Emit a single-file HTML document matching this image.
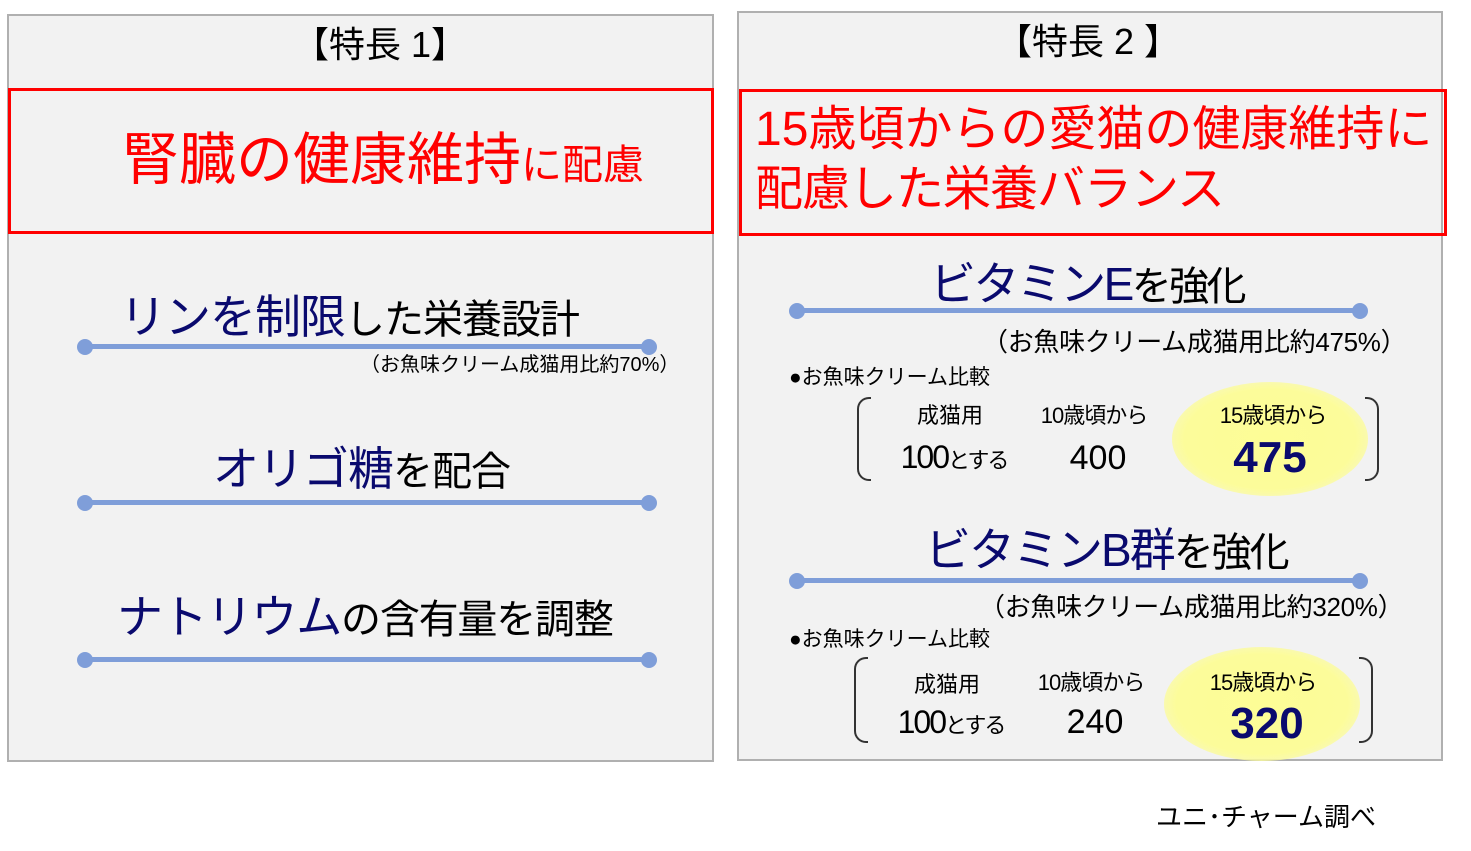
<!DOCTYPE html>
<html><head><meta charset="utf-8"><style>
body{margin:0;width:1471px;height:851px;background:#fff;position:relative;overflow:hidden;font-family:"Liberation Sans","Noto Sans CJK JP",sans-serif}
.a{position:absolute;white-space:nowrap;line-height:1}
.panel{position:absolute;background:#f2f2f2;border:2px solid #b0b0b0;box-sizing:border-box}
.red{position:absolute;border:3px solid #ff0000;box-sizing:border-box}
.ln{position:absolute;height:5px;background:#7f9ed9}
.dot{position:absolute;width:16px;height:16px;border-radius:50%;background:#7f9ed9}
.nv{color:#0a0a6e}
.c{transform:translateX(-50%)}
.br{position:absolute;width:14px;border:2px solid #333;box-sizing:border-box}
.bl{border-right:none;border-radius:12px 0 0 12px}
.brr{border-left:none;border-radius:0 12px 12px 0}
.ell{position:absolute;border-radius:50%;background:radial-gradient(ellipse at center,#fdfd96 0%,#fcfc9a 62%,rgba(252,252,160,0) 100%)}
</style></head><body>
<div class="panel" style="left:7px;top:14px;width:707px;height:748px"></div>
<div class="panel" style="left:737px;top:11px;width:706px;height:750px"></div>

<div class="a c" style="left:380px;top:27px;font-size:36px">【特長 1】</div>
<div class="red" style="left:8px;top:88px;width:706px;height:146px"></div>
<div class="a" style="left:122px;top:132px;color:#ff0000;font-size:57px;letter-spacing:0">腎臓の健康維持<span style="font-size:41px">に配慮</span></div>

<div class="a" style="left:120px;top:294px;font-size:46px;letter-spacing:-1px"><span class="nv">リンを制限</span><span style="font-size:40px">した栄養設計</span></div>
<div class="ln" style="left:85px;top:344px;width:564px"></div>
<div class="dot" style="left:77px;top:339px"></div><div class="dot" style="left:641px;top:339px"></div>
<div class="a" style="left:360px;top:355px;font-size:20px">（お魚味クリーム成猫用比約70%）</div>

<div class="a" style="left:213px;top:446px;font-size:46px;letter-spacing:-1px"><span class="nv">オリゴ糖</span><span style="font-size:40px">を配合</span></div>
<div class="ln" style="left:85px;top:500px;width:564px"></div>
<div class="dot" style="left:77px;top:495px"></div><div class="dot" style="left:641px;top:495px"></div>

<div class="a" style="left:117px;top:594px;font-size:46px;letter-spacing:-1.2px"><span class="nv">ナトリウム</span><span style="font-size:40px">の含有量を調整</span></div>
<div class="ln" style="left:85px;top:657px;width:564px"></div>
<div class="dot" style="left:77px;top:652px"></div><div class="dot" style="left:641px;top:652px"></div>

<div class="a c" style="left:1088px;top:24px;font-size:36px">【特長 2 】</div>
<div class="red" style="left:739px;top:89px;width:708px;height:147px"></div>
<div class="a" style="left:755px;top:106px;color:#ff0000;font-size:48px;letter-spacing:0">15歳頃からの愛猫の健康維持に</div>
<div class="a" style="left:755px;top:166px;color:#ff0000;font-size:48px;letter-spacing:-1px">配慮した栄養バランス</div>

<div class="a" style="left:930px;top:261px;font-size:46px;letter-spacing:-2.6px"><span class="nv">ビタミンE</span><span style="font-size:40px">を強化</span></div>
<div class="ln" style="left:797px;top:308px;width:563px"></div>
<div class="dot" style="left:789px;top:303px"></div><div class="dot" style="left:1352px;top:303px"></div>
<div class="a" style="left:982px;top:329px;font-size:26px;letter-spacing:-0.3px">（お魚味クリーム成猫用比約475%）</div>
<div class="a" style="left:789px;top:367px;font-size:21px">●お魚味クリーム比較</div>
<div class="br bl" style="left:857px;top:397px;height:84px"></div>
<div class="br brr" style="left:1365px;top:397px;height:84px"></div>
<div class="ell" style="left:1172px;top:382px;width:196px;height:114px"></div>
<div class="a c" style="left:950px;top:405px;font-size:22px">成猫用</div>
<div class="a c" style="left:954px;top:441px;font-size:32px;letter-spacing:-2px">100<span style="font-size:22px">とする</span></div>
<div class="a c" style="left:1094px;top:405px;font-size:22px;letter-spacing:-1px">10歳頃から</div>
<div class="a c" style="left:1098px;top:441px;font-size:34px">400</div>
<div class="a c" style="left:1273px;top:405px;font-size:22px;letter-spacing:-1px">15歳頃から</div>
<div class="a c nv" style="left:1270px;top:436px;font-size:44px;font-weight:bold">475</div>

<div class="a" style="left:925px;top:527px;font-size:46px;letter-spacing:-2px"><span class="nv">ビタミンB群</span><span style="font-size:40px">を強化</span></div>
<div class="ln" style="left:797px;top:578px;width:563px"></div>
<div class="dot" style="left:789px;top:573px"></div><div class="dot" style="left:1352px;top:573px"></div>
<div class="a" style="left:979px;top:594px;font-size:26px;letter-spacing:-0.3px">（お魚味クリーム成猫用比約320%）</div>
<div class="a" style="left:789px;top:629px;font-size:21px">●お魚味クリーム比較</div>
<div class="br bl" style="left:854px;top:657px;height:86px"></div>
<div class="br brr" style="left:1359px;top:657px;height:86px"></div>
<div class="ell" style="left:1164px;top:647px;width:196px;height:114px"></div>
<div class="a c" style="left:947px;top:674px;font-size:22px">成猫用</div>
<div class="a c" style="left:951px;top:706px;font-size:32px;letter-spacing:-2px">100<span style="font-size:22px">とする</span></div>
<div class="a c" style="left:1091px;top:672px;font-size:22px;letter-spacing:-1px">10歳頃から</div>
<div class="a c" style="left:1095px;top:705px;font-size:34px">240</div>
<div class="a c" style="left:1263px;top:672px;font-size:22px;letter-spacing:-1px">15歳頃から</div>
<div class="a c nv" style="left:1267px;top:702px;font-size:44px;font-weight:bold">320</div>

<div class="a" style="left:1156px;top:804px;font-size:26px">ユニ･チャーム調べ</div>
</body></html>
